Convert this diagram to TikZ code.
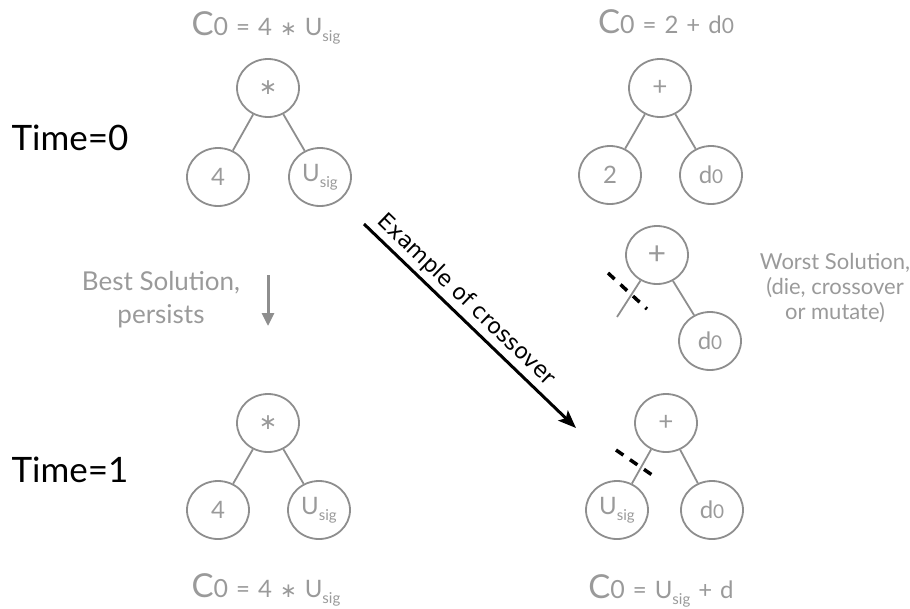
\documentclass[tikz,border=0pt]{standalone}
\usepackage{fontspec}
\setmainfont{Lato}
\newfontfamily\labelfont{DejaVu Sans}
\usetikzlibrary{shapes.geometric,arrows.meta}
\definecolor{nodegray}{HTML}{8E8E8E}
\definecolor{textgray}{HTML}{9A9A9A}
\newcommand{\fs}[1]{\fontsize{#1}{#1}\selectfont}
\newcommand{\sig}{\raisebox{-0.25em}{\fs{15}sig}}
\newcommand{\tsig}{\raisebox{-0.25em}{\fs{15}sig}}
\newcommand{\bigC}{{\fs{33}C}{\fs{25}0}}
\newcommand{\myast}{{\labelfont ∗}}
\newcommand{\tast}{{\labelfont\fs{20}∗}}
\newcommand{\dz}{d{\fs{19}0}}
\newcommand{\tdz}{d{\fs{21}0}}
\newcommand{\gap}{\hspace{8pt}}
\begin{document}
\begin{tikzpicture}[x=1pt,y=-1pt,
  tnode/.style={ellipse, draw=nodegray, line width=1.8pt, minimum width=62pt, minimum height=58pt, inner sep=0pt, text=textgray, font=\fs{24}},
  tedge/.style={draw=nodegray, line width=1.8pt},
  title/.style={text=textgray, inner sep=0pt, anchor=base, font=\fs{24}},
  timelbl/.style={text=black, inner sep=0pt, font=\fs{35}},
  graytext/.style={text=textgray, inner sep=0pt, align=center},
  cut/.style={draw=black, line width=3.5pt, dash pattern=on 9pt off 8pt},
]
\useasboundingbox (0,0) rectangle (910,608);

% time labels
\node[timelbl] (t0) at (70,138) {Time=0};
\node[timelbl] (t1) at (70,470) {Time=1};

% top-left tree
\node[title] (ttl) at (266,35) {\bigC\gap=\gap4\gap\tast\gap U\tsig};
\node[tnode] (a) at (268,88) {\fs{22}\myast};
\node[tnode] (a1) at (218,177) {4};
\node[tnode] (a2) at (320,177) {U\sig};
\draw[tedge] (a) -- (a1);
\draw[tedge] (a) -- (a2);

% top-right tree
\node[title] (ttr) at (666,33) {\bigC\gap=\gap2\gap+\gap\tdz};
\node[tnode] (b) at (660,88) {\fs{26}+};
\node[tnode] (b1) at (610,175) {2};
\node[tnode] (b2) at (711,175) {\dz};
\draw[tedge] (b) -- (b1);
\draw[tedge] (b) -- (b2);

% worst tree
\node[tnode] (w) at (657,255) {\fs{32}+};
\node[tnode] (w2) at (710,341) {\dz};
\coordinate (wstub) at (617,317);
\draw[tedge] (w) -- (wstub);
\draw[tedge] (w) -- (w2);
\coordinate (wc1) at (608,273);
\coordinate (wc2) at (647,309);
\draw[cut] (wc1) -- (wc2);
\node[graytext, font=\fs{22}] (worst) at (835,288) {Worst Solution,\\[3pt](die, crossover\\[3pt]or mutate)};

% best solution
\node[graytext, font=\fs{26}] (best) at (161,300) {Best Solution,\\[7pt]persists};
\coordinate (bs) at (268,275);
\coordinate (be) at (268,326);
\draw[draw=nodegray, line width=3pt, -{Triangle[length=13pt,width=12pt]}] (bs) -- (be);

% crossover arrow
\coordinate (xs) at (364,224);
\coordinate (xe) at (576,428);
\draw[line width=3pt, -{Stealth[length=18pt,width=14pt,inset=4pt]}] (xs) -- node[sloped, above, pos=0.43, inner sep=4pt, font=\labelfont\fs{22}] (xl) {Example of crossover} (xe);

% bottom-left tree
\node[tnode] (c) at (268,423) {\fs{22}\myast};
\node[tnode] (c1) at (218,510) {4};
\node[tnode] (c2) at (319,510) {U\sig};
\draw[tedge] (c) -- (c1);
\draw[tedge] (c) -- (c2);
\node[title] (tbl) at (266,597) {\bigC\gap=\gap4\gap\tast\gap U\tsig};

% bottom-right tree
\node[tnode] (d) at (666,423) {\fs{26}+};
\node[tnode] (d1) at (617,510) {U\sig};
\node[tnode] (d2) at (712,510) {\dz};
\draw[tedge] (d) -- (d1);
\draw[tedge] (d) -- (d2);
\coordinate (dc1) at (616,450);
\coordinate (dc2) at (655,477);
\draw[cut] (dc1) -- (dc2);
\node[title] (tbr) at (661,598) {\bigC\gap=\gap U\tsig\gap+\gap d};
\end{tikzpicture}
\end{document}
